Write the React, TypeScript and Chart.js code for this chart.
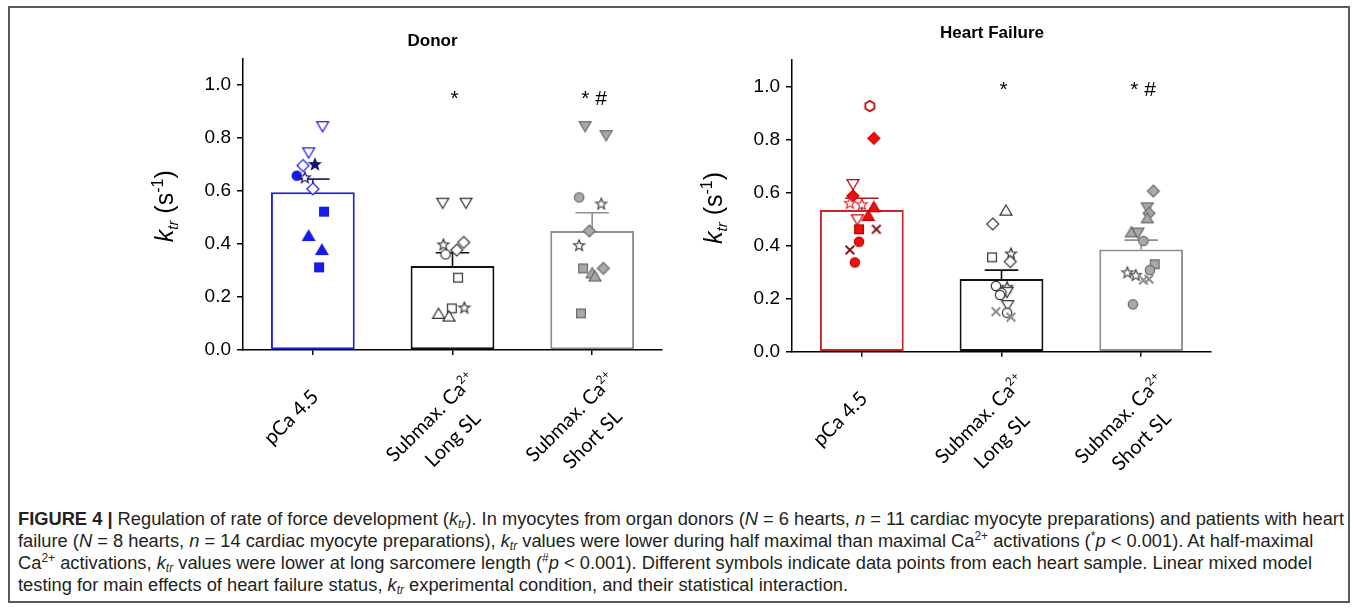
import React, { useEffect, useRef } from 'react';
import { Chart, registerables } from 'chart.js';

Chart.register(...registerables);

// ---------- data ----------
const categoryLabels = [['pCa 4.5'], ['Submax. Ca^2+', 'Long SL'], ['Submax. Ca^2+', 'Short SL']];
const yStep = 0.2;
const yMax = 1.1;

const donorMeans = [0.595, 0.317, 0.449];
const donorSem = [0.05, 0.05, 0.069];
const donorSig = ['', '*', '* #'];
const donorSigY = [null, 0.923, 0.923];

const donorPCaY = [0.845, 0.746, 0.696, 0.702, 0.658, 0.652, 0.608, 0.522, 0.43, 0.377, 0.312];
const donorPCaJitter = [0.07, -0.03, -0.07, 0.015, -0.115, -0.057, 0.0, 0.08, -0.03, 0.065, 0.045];
const donorPCaSymbols = ['tdo', 'tdo', 'do', 'stf', 'cf', 'sto', 'do', 'sf', 'tuf', 'tuf', 'sf'];

const donorLongY = [0.556, 0.556, 0.399, 0.406, 0.377, 0.361, 0.273, 0.157, 0.161, 0.136, 0.126];
const donorLongJitter = [-0.07, 0.097, -0.065, 0.08, 0.03, -0.05, 0.04, -0.005, 0.085, -0.1, -0.025];
const donorLongSymbols = ['tdo', 'tdo', 'sto', 'do', 'do', 'co', 'so', 'so', 'sto', 'tuo', 'tuo'];

const donorShortY = [0.845, 0.811, 0.576, 0.553, 0.449, 0.396, 0.308, 0.308, 0.289, 0.277, 0.138];
const donorShortJitter = [-0.05, 0.1, -0.093, 0.065, -0.02, -0.093, -0.065, 0.08, 0.0, 0.02, -0.08];
const donorShortSymbols = ['tdf', 'tdf', 'cf', 'sto', 'df', 'sto', 'sf', 'df', 'tuf', 'tuf', 'sf'];

const hfMeans = [0.535, 0.274, 0.386];
const hfSem = [0.044, 0.034, 0.035];
const hfSig = ['', '*', '* #'];
const hfSigY = [null, 0.965, 0.965];

const hfPCaY = [0.927, 0.805, 0.633, 0.588, 0.562, 0.557, 0.545, 0.512, 0.5, 0.462, 0.462, 0.415, 0.384, 0.337];
const hfPCaJitter = [0.057, 0.086, -0.064, -0.064, -0.086, 0.0, 0.086, 0.046, -0.032, -0.02, 0.104, -0.02, -0.086, -0.05];
const hfPCaSymbols = ['ho', 'df', 'tdo', 'df', 'sto', 'sto', 'tuf', 'tuf', 'tdo', 'sf', 'x', 'cf', 'x', 'cf'];

const hfLongY = [0.532, 0.482, 0.356, 0.371, 0.34, 0.248, 0.245, 0.226, 0.222, 0.214, 0.176, 0.151, 0.147, 0.13];
const hfLongJitter = [0.032, -0.063, -0.068, 0.068, 0.063, -0.04, 0.04, 0.04, 0.0, -0.01, 0.044, -0.04, 0.04, 0.068];
const hfLongSymbols = ['tuo', 'do', 'so', 'sto', 'do', 'co', 'sto', 'tdo', 'co', 'co', 'tdo', 'x', 'co', 'x'];

const hfShortY = [0.606, 0.545, 0.522, 0.503, 0.45, 0.45, 0.418, 0.33, 0.308, 0.3, 0.29, 0.27, 0.274, 0.179];
const hfShortJitter = [0.087, 0.044, 0.056, 0.044, -0.07, -0.023, 0.016, 0.097, 0.063, -0.099, -0.039, 0.016, 0.056, -0.059];
const hfShortSymbols = ['df', 'tdf', 'df', 'tuf', 'tuf', 'tdf', 'cf', 'sf', 'cf', 'sto', 'sto', 'x', 'x', 'cf'];

// ---------- styles ----------
type MStyle = { fill: string; stroke: string; star: string; x: string };

const donorStyles: MStyle[] = [
  { fill: '#1a1ae8', stroke: '#1a1ae8', star: '#14146e', x: '#000' },
  { fill: '#ffffff', stroke: '#333333', star: '#333333', x: '#666' },
  { fill: '#a9a9a9', stroke: '#6a6a6a', star: '#444444', x: '#888' },
];
const hfStyles: MStyle[] = [
  { fill: '#ee1111', stroke: '#c40000', star: '#e02a2a', x: '#8a1414' },
  { fill: '#ffffff', stroke: '#333333', star: '#333333', x: '#8a8a8a' },
  { fill: '#a9a9a9', stroke: '#6a6a6a', star: '#444444', x: '#8a8a8a' },
];
const donorBarColors = ['#1f1fe0', '#111111', '#8e8e8e'];
const hfBarColors = ['#c8242c', '#111111', '#8e8e8e'];
const donorErrColors = ['#22228a', '#111111', '#8e8e8e'];
const hfErrColors = ['#a01a20', '#111111', '#8e8e8e'];

const SANS = '"Liberation Sans", Arial, Helvetica, sans-serif';
const LABEL_FONT = 'Lato, "Open Sans", sans-serif';

function makeMarker(sym: string, st: MStyle): HTMLCanvasElement {
  const S = 20;
  const c = S / 2;
  const cv = document.createElement('canvas');
  cv.width = S;
  cv.height = S;
  const g = cv.getContext('2d') as CanvasRenderingContext2D;
  const filled = sym.endsWith('f');
  const shape = sym === 'x' ? 'x' : sym.slice(0, -1);
  g.lineWidth = 1.2;
  if (shape === 'x') {
    g.strokeStyle = st.x;
    g.lineWidth = 2;
    g.beginPath();
    g.moveTo(c - 4.3, c - 4.3);
    g.lineTo(c + 4.3, c + 4.3);
    g.moveTo(c + 4.3, c - 4.3);
    g.lineTo(c - 4.3, c + 4.3);
    g.stroke();
    return cv;
  }
  g.beginPath();
  if (shape === 'c') {
    g.arc(c, c, 4.7, 0, Math.PI * 2);
  } else if (shape === 's') {
    g.rect(c - 4.4, c - 4.4, 8.8, 8.8);
  } else if (shape === 'd') {
    g.moveTo(c, c - 6);
    g.lineTo(c + 6, c);
    g.lineTo(c, c + 6);
    g.lineTo(c - 6, c);
    g.closePath();
  } else if (shape === 'tu') {
    g.moveTo(c, c - 5.8);
    g.lineTo(c + 6, c + 4.4);
    g.lineTo(c - 6, c + 4.4);
    g.closePath();
  } else if (shape === 'td') {
    g.moveTo(c, c + 5.8);
    g.lineTo(c + 6, c - 4.4);
    g.lineTo(c - 6, c - 4.4);
    g.closePath();
  } else if (shape === 'st') {
    for (let i = 0; i < 10; i++) {
      const r = i % 2 ? 2.5 : 5.8;
      const a = -Math.PI / 2 + (i * Math.PI) / 5;
      const px = c + r * Math.cos(a);
      const py = c + 0.6 + r * Math.sin(a);
      if (i === 0) g.moveTo(px, py);
      else g.lineTo(px, py);
    }
    g.closePath();
  } else if (shape === 'h') {
    for (let i = 0; i < 6; i++) {
      const a = Math.PI / 6 + (i * Math.PI) / 3;
      const px = c + 5.2 * Math.cos(a);
      const py = c + 5.2 * Math.sin(a);
      if (i === 0) g.moveTo(px, py);
      else g.lineTo(px, py);
    }
    g.closePath();
  }
  if (shape === 'st') {
    g.fillStyle = filled ? st.star : '#ffffff';
    g.strokeStyle = st.star;
  } else {
    g.fillStyle = filled ? st.fill : '#ffffff';
    g.strokeStyle = st.stroke;
  }
  if (shape === 'h') g.lineWidth = 1.8;
  g.fill();
  g.stroke();
  return cv;
}

type Part = { t: string; font: string; dy: number };

function drawParts(ctx: CanvasRenderingContext2D, parts: Part[], cx: number, cy: number, angle: number, color: string) {
  ctx.save();
  ctx.translate(cx, cy);
  ctx.rotate(angle);
  ctx.fillStyle = color;
  ctx.textBaseline = 'alphabetic';
  ctx.textAlign = 'left';
  let w = 0;
  for (const p of parts) {
    ctx.font = p.font;
    w += ctx.measureText(p.t).width;
  }
  let x = -w / 2;
  for (const p of parts) {
    ctx.font = p.font;
    ctx.fillText(p.t, x, p.dy);
    x += ctx.measureText(p.t).width;
  }
  ctx.restore();
}

function lineParts(line: string): Part[] {
  const [main, sup] = line.split('^');
  const parts: Part[] = [{ t: main, font: `20px ${LABEL_FONT}`, dy: 0 }];
  if (sup) parts.push({ t: sup, font: `12px ${LABEL_FONT}`, dy: -8 });
  return parts;
}

type Panel = {
  title: string;
  titleDx: number;
  titleY: number;
  means: number[];
  sem: number[];
  sig: string[];
  sigY: (number | null)[];
  groupsY: number[][];
  groupsJitter: number[][];
  groupsSymbols: string[][];
  styles: MStyle[];
  barColors: string[];
  errColors: string[];
  padding: { left: number; right: number; top: number; bottom: number };
};

const donorPanel: Panel = {
  title: 'Donor',
  titleDx: -20,
  titleY: 41,
  means: donorMeans,
  sem: donorSem,
  sig: donorSig,
  sigY: donorSigY,
  groupsY: [donorPCaY, donorLongY, donorShortY],
  groupsJitter: [donorPCaJitter, donorLongJitter, donorShortJitter],
  groupsSymbols: [donorPCaSymbols, donorLongSymbols, donorShortSymbols],
  styles: donorStyles,
  barColors: donorBarColors,
  errColors: donorErrColors,
  padding: { left: 53, right: 18, top: 58.5, bottom: 125 },
};

const hfPanel: Panel = {
  title: 'Heart Failure',
  titleDx: -9.5,
  titleY: 33,
  means: hfMeans,
  sem: hfSem,
  sig: hfSig,
  sigY: hfSigY,
  groupsY: [hfPCaY, hfLongY, hfShortY],
  groupsJitter: [hfPCaJitter, hfLongJitter, hfShortJitter],
  groupsSymbols: [hfPCaSymbols, hfLongSymbols, hfShortSymbols],
  styles: hfStyles,
  barColors: hfBarColors,
  errColors: hfErrColors,
  padding: { left: 52, right: 19, top: 60.2, bottom: 123.3 },
};

function buildChart(canvas: HTMLCanvasElement, p: Panel) {
  const decor = {
    id: 'decor',
    afterDatasetDraw(chart: any, args: any) {
      if (args.index !== 0) return;
      const meta = chart.getDatasetMeta(0);
      const ys = chart.scales.y;
      const ctx = chart.ctx as CanvasRenderingContext2D;
      meta.data.forEach((bar: any, i: number) => {
        const top = ys.getPixelForValue(p.means[i] + p.sem[i]);
        const base = ys.getPixelForValue(p.means[i]);
        const hw = bar.width * 0.2;
        ctx.save();
        ctx.strokeStyle = p.errColors[i];
        ctx.lineWidth = 1.6;
        ctx.beginPath();
        ctx.moveTo(bar.x, base);
        ctx.lineTo(bar.x, top);
        ctx.moveTo(bar.x - hw, top);
        ctx.lineTo(bar.x + hw, top);
        ctx.stroke();
        ctx.restore();
      });
    },
    afterDraw(chart: any) {
      const ctx = chart.ctx as CanvasRenderingContext2D;
      const area = chart.chartArea;
      const xs = chart.scales.x;
      const ys = chart.scales.y;
      // title
      ctx.save();
      ctx.font = `bold 17px ${SANS}`;
      ctx.fillStyle = '#000';
      ctx.textAlign = 'center';
      ctx.textBaseline = 'middle';
      ctx.fillText(p.title, (area.left + area.right) / 2 + p.titleDx, p.titleY);
      ctx.restore();
      // y axis title
      drawParts(
        ctx,
        [
          { t: 'k', font: `italic 25px ${SANS}`, dy: 0 },
          { t: 'tr', font: `italic 15px ${SANS}`, dy: 5 },
          { t: ' (s', font: `25px ${SANS}`, dy: 0 },
          { t: '-1', font: `16px ${SANS}`, dy: -10 },
          { t: ')', font: `25px ${SANS}`, dy: 0 },
        ],
        area.left - 70,
        (area.top + area.bottom) / 2 + 2,
        -Math.PI / 2,
        '#000'
      );
      // x labels
      categoryLabels.forEach((lines, i) => {
        const tx = xs.getPixelForValue(i);
        lines.forEach((line, k) => {
          const cx = tx - 22 + 22 * k;
          const cy = area.bottom + 67 + 22 * k;
          ctx.save();
          ctx.translate(cx, cy);
          ctx.rotate(-Math.PI / 4);
          drawParts(ctx, lineParts(line), 0, 7, 0, '#000');
          ctx.restore();
        });
      });
      // significance marks
      ctx.save();
      ctx.font = `21px ${SANS}`;
      ctx.fillStyle = '#000';
      ctx.textAlign = 'center';
      ctx.textBaseline = 'alphabetic';
      p.sig.forEach((s, i) => {
        const v = p.sigY[i];
        if (!s || v == null) return;
        ctx.fillText(s, xs.getPixelForValue(i) + 2, ys.getPixelForValue(v));
      });
      ctx.restore();
    },
  };

  const scatterSets = p.groupsY.map((ys, gi) => ({
    type: 'scatter' as const,
    order: 0,
    data: ys.map((v, j) => ({ x: gi + p.groupsJitter[gi][j], y: v })),
    pointStyle: p.groupsSymbols[gi].map((s) => makeMarker(s, p.styles[gi])),
    pointRadius: 6,
    pointHoverRadius: 6,
  }));

  const tickIndexes = categoryLabels.map((_, i) => i);

  return new Chart(canvas, {
    type: 'bar',
    data: {
      datasets: [
        {
          type: 'bar',
          order: 1,
          data: p.means.map((m, i) => ({ x: i, y: m })),
          backgroundColor: '#ffffff',
          borderColor: p.barColors,
          borderWidth: 2,
          borderSkipped: false,
          barPercentage: 0.6,
          categoryPercentage: 1,
        } as any,
        ...(scatterSets as any[]),
      ],
    },
    options: {
      animation: false,
      responsive: false,
      events: [],
      layout: { padding: p.padding },
      plugins: { legend: { display: false }, tooltip: { enabled: false }, title: { display: false } },
      scales: {
        x: {
          type: 'linear',
          offset: false,
          min: -0.5,
          max: tickIndexes.length - 0.5,
          afterBuildTicks: (s: any) => {
            s.ticks = tickIndexes.map((v) => ({ value: v }));
          },
          grid: { display: true, offset: false, drawOnChartArea: false, drawTicks: true, tickLength: 5, color: '#000', lineWidth: 1.5 },
          border: { display: true, color: '#000', width: 1.5 },
          ticks: { display: false },
          afterFit: (s: any) => {
            s.height = 5;
          },
        },
        y: {
          min: 0,
          max: yMax,
          grid: { display: true, drawOnChartArea: false, drawTicks: true, tickLength: 6, color: '#000', lineWidth: 1.5 },
          border: { display: true, color: '#000', width: 1.5 },
          ticks: {
            stepSize: yStep,
            includeBounds: false,
            color: '#000',
            padding: 6,
            font: { family: SANS, size: 19 },
            callback: (v: any) => Number(v).toFixed(1),
          },
          afterFit: (s: any) => {
            s.width = 50;
          },
        },
      } as any,
    },
    plugins: [decor as any],
  });
}

function PanelChart({ panel, left }: { panel: Panel; left: number }) {
  const ref = useRef<HTMLCanvasElement | null>(null);
  useEffect(() => {
    if (!ref.current) return;
    const chart = buildChart(ref.current, panel);
    return () => chart.destroy();
  }, [panel]);
  return (
    <canvas
      ref={ref}
      width={540}
      height={480}
      style={{ position: 'absolute', left, top: 0, width: 540, height: 480 }}
    />
  );
}

const subStyle: React.CSSProperties = { fontSize: 12, verticalAlign: 'baseline', position: 'relative', top: 3, lineHeight: 0 };
const supStyle: React.CSSProperties = { fontSize: 12, verticalAlign: 'baseline', position: 'relative', top: -7, lineHeight: 0 };

function Ktr() {
  return (
    <>
      <i>k</i>
      <i style={subStyle}>tr</i>
    </>
  );
}

export default function App() {
  return (
    <div style={{ position: 'absolute', left: 0, top: 0, width: 1357, height: 608, background: '#fff', overflow: 'hidden' }}>
      <div
        style={{
          position: 'absolute',
          left: 8,
          top: 6,
          width: 1342,
          height: 597,
          boxSizing: 'border-box',
          border: '2px solid #5a5a5a',
        }}
      />
      <PanelChart panel={donorPanel} left={140} />
      <PanelChart panel={hfPanel} left={690} />
      <div
        style={{
          position: 'absolute',
          left: 18,
          top: 508,
          font: `18.3px ${SANS}`,
          lineHeight: '22px',
          color: '#231f20',
          whiteSpace: 'nowrap',
        }}
      >
        <div>
          <b>FIGURE 4 |</b> Regulation of rate of force development (<Ktr />). In myocytes from organ donors (<i>N</i> = 6 hearts, <i>n</i> = 11 cardiac
          myocyte preparations) and patients with heart
        </div>
        <div>
          failure (<i>N</i> = 8 hearts, <i>n</i> = 14 cardiac myocyte preparations), <Ktr /> values were lower during half maximal than maximal Ca
          <span style={supStyle}>2+</span> activations (<span style={supStyle}>*</span>
          <i>p</i> &lt; 0.001). At half-maximal
        </div>
        <div>
          Ca<span style={supStyle}>2+</span> activations, <Ktr /> values were lower at long sarcomere length (<span style={supStyle}>#</span>
          <i>p</i> &lt; 0.001). Different symbols indicate data points from each heart sample. Linear mixed model
        </div>
        <div>
          testing for main effects of heart failure status, <Ktr /> experimental condition, and their statistical interaction.
        </div>
      </div>
    </div>
  );
}
